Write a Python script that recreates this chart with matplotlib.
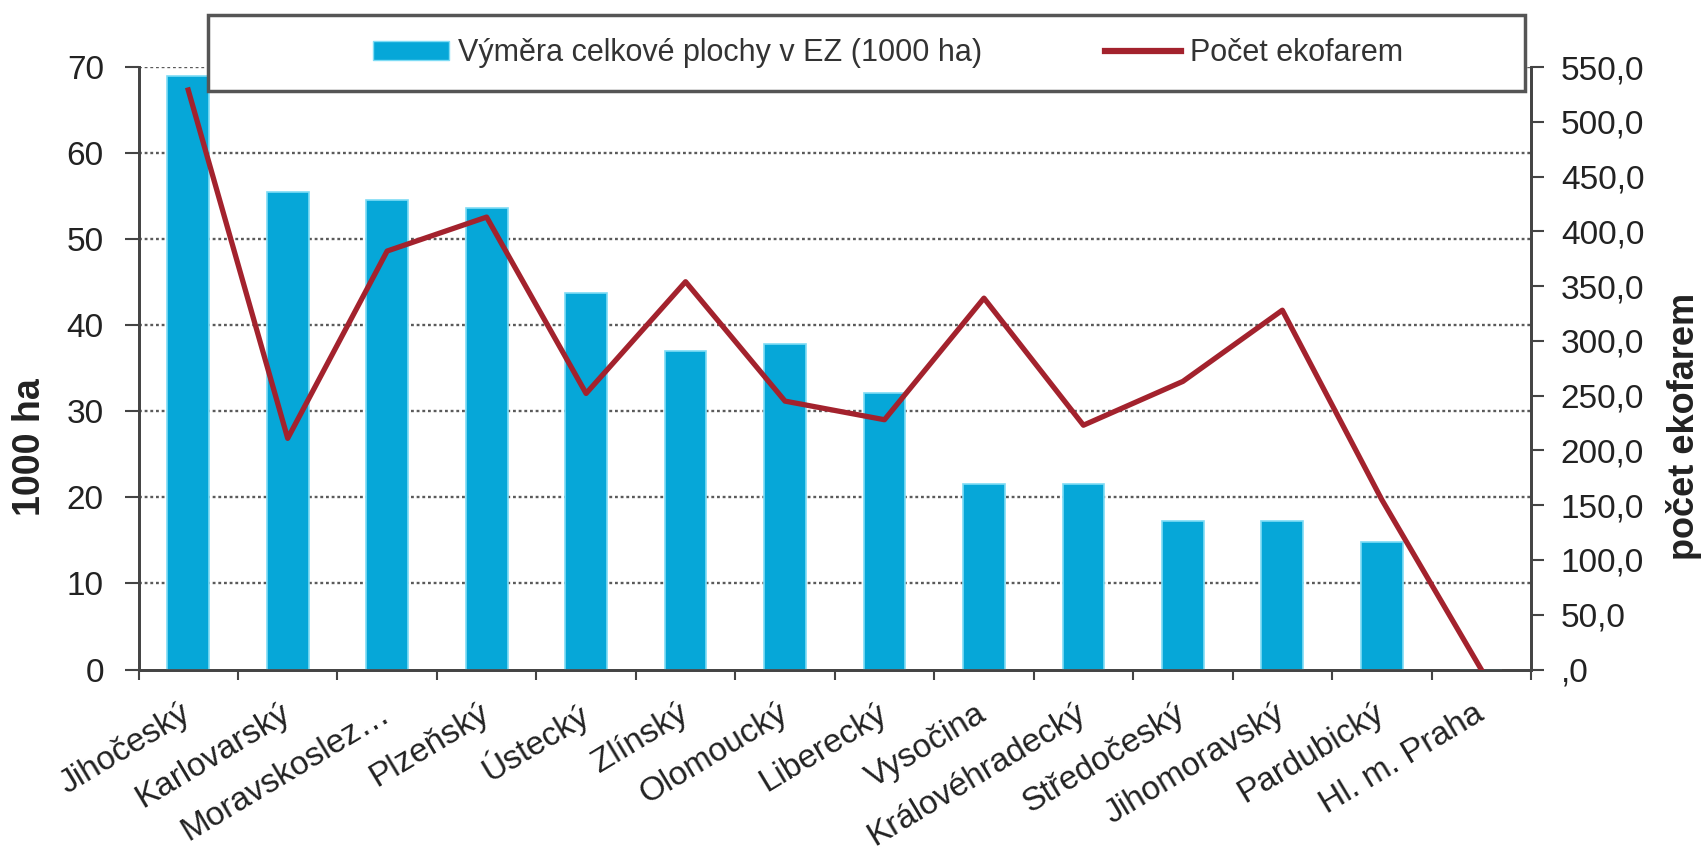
import numpy as np
import matplotlib
matplotlib.use('Agg')
import matplotlib.pyplot as plt
from matplotlib.patches import Rectangle, Patch
from matplotlib.lines import Line2D

plt.rcParams['font.family'] = ['Liberation Sans', 'DejaVu Sans']

# Data
regions = ['Jihočeský', 'Karlovarský', 'Moravskoslez…', 'Plzeňský', 'Ústecký', 'Zlínský',
           'Olomoucký', 'Liberecký', 'Vysočina', 'Královéhradecký', 'Středočeský',
           'Jihomoravský', 'Pardubický', 'Hl. m. Praha']
area_1000ha = [68.9, 55.5, 54.6, 53.6, 43.8, 37.0, 37.8, 32.1, 21.5, 21.5, 17.2, 17.2, 14.8, 0.0]
farm_count = [529, 211, 382, 413, 252, 354, 245, 228, 339, 223, 263, 328, 155, 0]

left_ticks = [0, 10, 20, 30, 40, 50, 60, 70]
right_ticks = [0, 50, 100, 150, 200, 250, 300, 350, 400, 450, 500, 550]
right_tick_labels = [',0', '50,0', '100,0', '150,0', '200,0', '250,0', '300,0',
                     '350,0', '400,0', '450,0', '500,0', '550,0']

bar_label = 'Výměra celkové plochy v EZ (1000 ha)'
line_label = 'Počet ekofarem'

bar_color = '#06a7d8'
line_color = '#a3222d'
axis_color = '#444444'
text_color = '#222222'

W, H = 1702, 855
fig = plt.figure(figsize=(W / 100, H / 100), dpi=100)
left_px, right_px, top_px, bottom_px = 138.5, 1531, 67, 669.5
ax = fig.add_axes([left_px / W, 1 - bottom_px / H, (right_px - left_px) / W, (bottom_px - top_px) / H])
ax2 = ax.twinx()

x = np.arange(len(regions))
ax.bar(x, area_1000ha, width=0.42, color=bar_color, edgecolor='#7fdcf5', linewidth=1.2, zorder=3)
ax2.plot(x, farm_count, color=line_color, linewidth=3.8, zorder=4)

ax.set_xlim(-0.5, len(regions) - 0.5)
ax.set_ylim(0, 70)
ax2.set_ylim(0, 550)

# gridlines
for v in left_ticks[1:]:
    ax.axhline(v, color='#5a5a5a', linestyle=(0, (1.2, 1.2)), linewidth=1.7, zorder=1)

# x ticks: marks between categories, labels at centres
ax.set_xticks(x)
ax.set_xticklabels(regions, rotation=31, ha='right', va='center', rotation_mode='anchor',
                   fontsize=24, color=text_color)
ax.tick_params(axis='x', which='major', length=0, pad=30)
ax.set_xticks(np.arange(-0.5, len(regions), 1), minor=True)
ax.tick_params(axis='x', which='minor', length=7, width=1.5, color=axis_color, direction='out')

ax.set_yticks(left_ticks)
ax.tick_params(axis='y', length=10, width=1.5, color=axis_color, pad=15, labelsize=24,
               labelcolor=text_color)
ax2.set_yticks(right_ticks)
ax2.set_yticklabels(right_tick_labels)
ax2.tick_params(axis='y', length=9.5, width=1.5, color=axis_color, pad=12, labelsize=24,
                labelcolor=text_color)

for a in (ax, ax2):
    a.spines['top'].set_visible(False)
    for s in ('left', 'right', 'bottom'):
        a.spines[s].set_color(axis_color)
        a.spines[s].set_linewidth(2)

fig.text(30 / W, 1 - 447 / H, '1000 ha', rotation=90, ha='center', va='center',
         fontsize=27, fontweight='bold', color=text_color)
fig.text(1684 / W, 1 - 426 / H, 'počet ekofarem', rotation=90, ha='center', va='center',
         fontsize=26, fontweight='bold', color=text_color)

# legend box
bx0, bx1, by0, by1 = 208, 1525, 15, 91
fig.patches.append(Rectangle((bx0 / W, 1 - by1 / H), (bx1 - bx0) / W, (by1 - by0) / H,
                             transform=fig.transFigure, facecolor='white',
                             edgecolor='#555555', linewidth=2.5, zorder=3))
handles = [Patch(facecolor=bar_color, edgecolor='#7fdcf5'),
           Line2D([0], [0], color=line_color, linewidth=4.5)]
fig.legend(handles, [bar_label, line_label], loc='center',
           bbox_to_anchor=(888 / W, 1 - 53 / H),
           ncol=2, frameon=False, fontsize=22, handlelength=2.5, handleheight=0.6,
           handletextpad=0.3, columnspacing=4.0, labelcolor='#333333').set_zorder(5)

plt.savefig('out.png', dpi=100)
